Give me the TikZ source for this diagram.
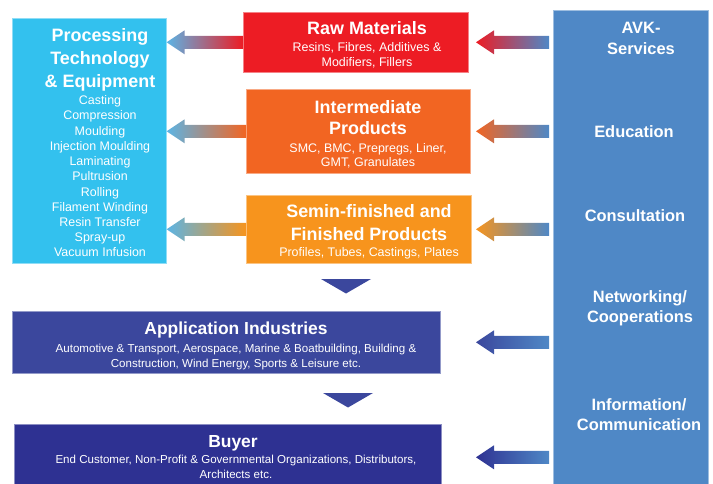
\documentclass[tikz,border=0pt]{standalone}
\usepackage{fontspec}
\setmainfont{Liberation Sans}
\usetikzlibrary{calc}
\definecolor{procblue}{HTML}{33C1EE}
\definecolor{skyblue}{HTML}{5BB4E5}
\definecolor{rawred}{HTML}{ED1C24}
\definecolor{interorange}{HTML}{F26522}
\definecolor{semiorange}{HTML}{F7941D}
\definecolor{avkblue}{HTML}{4F88C6}
\definecolor{appindigo}{HTML}{3B479D}
\definecolor{buyerblue}{HTML}{2E3192}

\tikzset{
  box/.style={rectangle, inner sep=0pt, anchor=north west, fill=#1, draw=#1!55!white, line width=0.6pt},
  ttl/.style={text=white, font=\fontsize{18}{23}\selectfont\bfseries, align=center, inner sep=0pt, anchor=base},
  sub/.style={text=white, font=\fontsize{12.5}{15}\selectfont, align=center, inner sep=0pt, anchor=base},
  svc/.style={text=white, font=\fontsize{16.5}{20}\selectfont\bfseries, align=center, inner sep=0pt, anchor=base}
}
% fat gradient arrow pointing left: tail, tip, tip colour, tail colour
\newcommand{\fatarrow}[4]{%
  \path[left color=#3, middle color=#3!50!#4!75!white, right color=#4] let \p1=#1, \p2=#2 in
    (\p2) -- (\x2+18bp,\y2+12bp) -- (\x2+18bp,\y2+6.5bp) -- (\x1,\y2+6.5bp)
    -- (\x1,\y2-6.5bp) -- (\x2+18bp,\y2-6.5bp) -- (\x2+18bp,\y2-12bp) -- cycle;
}

\begin{document}
\begin{tikzpicture}[x=1bp, y=-1bp]
  \useasboundingbox (0,0) rectangle (713,484);
  % Boxes
  \node[box=procblue, minimum width=154bp, minimum height=245bp] (proc) at (12,18) {};
  \node[box=rawred, minimum width=225bp, minimum height=60bp] (raw) at (243,12) {};
  \node[box=interorange, minimum width=224bp, minimum height=84bp] (inter) at (246,89) {};
  \node[box=semiorange, minimum width=225bp, minimum height=68bp] (semi) at (246,195) {};
  \node[box=avkblue, minimum width=155bp, minimum height=480bp] (avk) at (553,10) {};
  \node[box=appindigo, minimum width=428bp, minimum height=62bp] (app) at (12,311) {};
  \node[box=buyerblue, minimum width=427bp, minimum height=66bp] (buyer) at (14,424) {};

  % Texts (multi-line nodes sit on their last baseline)
  \node[ttl] (proct) at (100,87.5) {Processing\\Technology\\\& Equipment};
  \node[sub, font=\fontsize{12.5}{15.3}\selectfont] (procs) at (100,257) {Casting\\Compression\\Moulding\\Injection Moulding\\Laminating\\Pultrusion\\Rolling\\Filament Winding\\Resin Transfer\\Spray-up\\Vacuum Infusion};
  \node[ttl] (rawt) at (367,35) {Raw Materials};
  \node[sub] (raws) at (367,66.5) {Resins, Fibres, Additives \&\\Modifiers, Fillers};
  \node[ttl, font=\fontsize{18}{22}\selectfont\bfseries] (intert) at (368,135) {Intermediate\\Products};
  \node[sub, font=\fontsize{12.5}{14.5}\selectfont] (inters) at (368,167) {SMC, BMC, Prepregs, Liner,\\GMT, Granulates};
  \node[ttl, font=\fontsize{18}{23.5}\selectfont\bfseries] (semit) at (369,240.5) {Semin-finished and\\Finished Products};
  \node[sub] (semis) at (369,257) {Profiles, Tubes, Castings, Plates};
  \node[ttl, font=\fontsize{17.5}{22}\selectfont\bfseries] (appt) at (236,334) {Application Industries};
  \node[sub, font=\fontsize{11.6}{15}\selectfont] (apps) at (236,367) {Automotive \& Transport, Aerospace, Marine \& Boatbuilding, Building \&\\Construction, Wind Energy, Sports \& Leisure etc.};
  \node[ttl, font=\fontsize{17.5}{22}\selectfont\bfseries] (buyert) at (233,447) {Buyer};
  \node[sub, font=\fontsize{11.6}{15}\selectfont] (buyers) at (236,478) {End Customer, Non-Profit \& Governmental Organizations, Distributors,\\Architects etc.};
  \node[svc, font=\fontsize{16.5}{22}\selectfont\bfseries] (avkt) at (641,55) {AVK-\\Services};
  \node[svc] (edu) at (634,138) {Education};
  \node[svc] (cons) at (635,222) {Consultation};
  \node[svc] (netw) at (640,322) {Networking/\\Cooperations};
  \node[svc] (info) at (639,430) {Information/\\Communication};

  % Arrows into processing
  \foreach \src/\clr in {raw/rawred, inter/interorange, semi/semiorange} {
    \fatarrow{(\src.west)}{(proc.east |- \src.west)}{skyblue}{\clr}
  }
  % Arrows from services
  \foreach \src/\clr in {raw/rawred, inter/interorange, semi/semiorange, app/appindigo, buyer/buyerblue} {
    \fatarrow{($(avk.west |- \src.east)+(-4,0)$)}{($(avk.west |- \src.east)+(-77,0)$)}{\clr}{avkblue}
  }
  % Down triangles
  \coordinate (tri1) at (346,279);
  \coordinate (tri2) at (348,393);
  \foreach \t in {tri1, tri2} {
    \fill[appindigo] (\t) ++(-25,0) -- ++(50,0) -- ++(-25,14.5) -- cycle;
  }
\end{tikzpicture}
\end{document}
